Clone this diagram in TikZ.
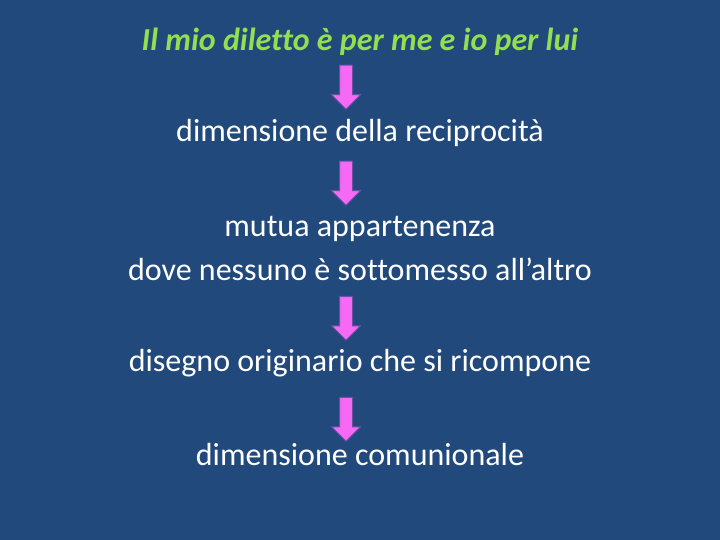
\documentclass[tikz,border=0pt]{standalone}
\usepackage{fontspec}
\setmainfont{Carlito}[Ligatures={NoCommon}]
\usepackage{xcolor}
\usetikzlibrary{shapes.arrows,positioning}
\definecolor{slideblue}{RGB}{33,73,124}
\definecolor{titlegreen}{RGB}{146,224,80}
\definecolor{arrowpink}{RGB}{245,105,245}
\definecolor{arrowrim}{RGB}{105,80,165}
\tikzset{
	every node/.append style={scale=1},
}

\begin{document}
\begin{tikzpicture}
			[x=1pt, y=-1pt,
				% STYLES
				% The line style is used for the white lines of text
				line/.style={text=white, inner sep=0pt, align=center,
						font=\fontsize{32}{44}\selectfont},
				% The title style is used for the green heading
				title/.style={text=titlegreen, inner sep=0pt,
						font=\fontsize{32}{38}\selectfont\bfseries\itshape},
				% The downarrow style is used for the pink block arrows
				downarrow/.style={single arrow, shape border rotate=270,
						fill=arrowpink, draw=arrowrim, line width=1pt,
						inner sep=6pt, minimum width=28pt, minimum height=44pt,
						single arrow head extend=8pt}]

			% Background
			\fill[slideblue] (0,0) rectangle (720,540);

			% Draw texts
			\node [title] (t) at (360,42) {Il mio diletto è per me e io per lui};
			\node [line] (a) at (360,133) {dimensione della reciprocità};
			\node [line] (b) at (360,248) {mutua appartenenza\\dove nessuno è sottomesso all’altro};
			\node [line] (c) at (360,363) {disegno originario che si ricompone};
			\node [line] (d) at (360,455) {dimensione comunionale};

			% Draw arrows
			\node [downarrow] (a1) at (346,84) {};
			\node [downarrow] (a2) at (346,180) {};
			\node [downarrow] (a3) at (346,315) {};
			\node [downarrow] (a4) at (346,416) {};
		\end{tikzpicture}
\end{document}
